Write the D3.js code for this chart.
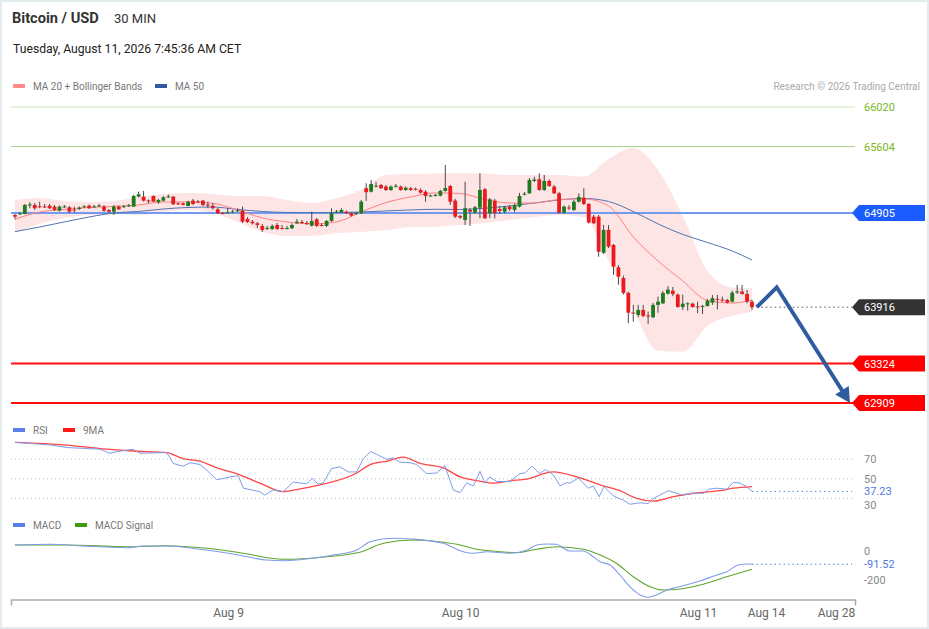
<!DOCTYPE html>
<html><head><meta charset="utf-8">
<script src="https://cdn.jsdelivr.net/npm/d3@7/dist/d3.min.js"></script>
<style>
html,body{margin:0;padding:0;background:#fff;overflow:hidden}
svg{display:block;font-family:Roboto,"Liberation Sans",Arial,sans-serif}
</style></head><body>
<svg id="c" width="929" height="629"></svg>
<script>
// ---------- DATA ----------
const title = "Bitcoin / USD";
const period = "30 MIN";
const stamp = "Tuesday, August 11, 2026 7:45:36 AM CET";
const credit = "Research \u00A9 2026 Trading Central";

const openP = [64885,64893,64896,64985,64990,64977,64975,64983,64973,64931, 64969,64966,64943,64948,64969,64983,64969,64980,64973,64938, 64920,64973,64969,64980,64973,65078,65078,65038,65085,65019, 65036,65075,65078,65008,65006,64980,65036,65027,65036,64994, 64983,64945,64906,64906,64917,64927,64931,64843,64815,64798, 64770,64740,64738,64780,64749,64742,64745,64798,64812,64801, 64773,64840,64780,64770,64822,64917,64914,64920,64903,64896, 64903,65166,65130,65187,65201,65183,65148,65187,65183,65148, 65166,65161,65148,65130,65085,65090,65088,65138,65190,65036, 64875,64833,64938,64910,64962,65155,64903,65036,64948,64920, 64973,64938,64973,65101,65113,65243,65261,65148,65243,65183, 65113,64910,64964,64938,65025,65067,65001,64867,64867,64488, 64728,64570,64335,64223,64066,63860,63834,63887,63829,63810, 63940,63956,64059,64090,64048,63918,63950,63953,63924,63918, 63929,63964,64003,63995,63992,63974,64076,64080,64055,63974];
const highP = [64896,64912,65001,65019,65011,65025,65001,65001,64990,64985, 64990,64980,64973,64975,64990,64996,64990,65001,64990,64948, 64990,64985,64990,65001,65096,65130,65138,65048,65090,65054, 65085,65101,65085,65017,65017,65033,65054,65043,65043,65025, 65011,64959,64917,64956,64938,64956,64973,64864,64833,64812, 64791,64770,64786,64801,64780,64770,64796,64843,64833,64822, 64920,64854,64796,64833,64956,64938,64956,64932,64917,64917, 65043,65218,65253,65232,65211,65201,65195,65211,65195,65185, 65180,65174,65164,65143,65101,65106,65148,65411,65201,65054, 64885,65235,64959,64980,65324,65169,65064,65054,64980,64980, 64990,65006,65117,65127,65274,65288,65324,65306,65258,65201, 65127,64985,64990,65043,65113,65166,65011,64885,64885,64780, 64780,64581,64360,64248,64080,63940,63940,63940,63869,63961, 64027,64087,64136,64129,64059,64048,63967,63964,63974,63940, 64003,64045,64045,64027,64003,64087,64150,64150,64097,63992];
const lowP = [64840,64885,64891,64956,64938,64956,64959,64948,64927,64922, 64959,64906,64910,64938,64959,64948,64959,64969,64917,64906, 64885,64938,64959,64969,64969,65069,65027,65008,65022,65001, 65027,65064,64990,64990,64985,64975,64990,65011,64980,64956, 64943,64896,64891,64901,64906,64917,64801,64801,64785,64748, 64707,64728,64728,64728,64733,64733,64738,64791,64791,64780, 64764,64759,64764,64759,64812,64906,64906,64896,64869,64885, 64896,65033,65122,65174,65159,65138,65138,65174,65138,65138, 65138,65143,65111,65025,65075,65080,65080,65130,64990,64854, 64843,64780,64770,64896,64851,64843,64854,64849,64896,64901, 64927,64917,64964,65090,65106,65232,65138,65138,65180,65106, 64901,64901,64938,64927,65017,64990,64796,64791,64446,64475, 64538,64255,64153,64048,63747,63764,63810,63810,63738,63803, 63858,63950,64048,64031,63911,63887,63880,63911,63852,63845, 63922,63940,63893,63974,63955,63966,64055,64048,63957,63887];
const closeP = [64867,64903,64990,64996,64956,64969,64969,64956,64938,64973, 64975,64920,64935,64962,64975,64956,64975,64985,64931,64920, 64973,64945,64977,64987,65085,65103,65036,65032,65025,65043, 65071,65080,64998,65003,64990,65025,65001,65022,64990,64987, 64956,64903,64900,64914,64922,64933,64815,64812,64798,64780, 64728,64749,64770,64738,64742,64749,64780,64815,64801,64795, 64822,64770,64775,64822,64903,64922,64938,64903,64878,64906, 65025,65124,65211,65193,65166,65148,65183,65192,65148,65172, 65148,65155,65120,65085,65090,65096,65138,65169,65025,64867, 64859,64956,64920,64966,65148,64851,65050,64903,64927,64966, 64945,64990,65085,65109,65253,65258,65148,65243,65190,65113, 64910,64973,64954,65025,65075,65001,64805,64798,64499,64728, 64552,64342,64237,64066,63858,63855,63887,63824,63818,63940, 63974,64066,64101,64055,63918,63953,63957,63918,63918,63929, 63985,64011,63997,63990,63964,64069,64082,64055,63974,63916];

const maIdx = [0,5,10,15,20,25,30,35,40,45,50,55,60,65,70,75,80,85,90,95,100,105,110,115,120,125,130,135,140,145,149];
const ma20 = [64840,64917,64943,64964,64975,64990,65022,65022,65008,64938,64854,64812,64791,64812,64917,65015,65075,65117,65111,65048,65011,65011,65048,65054,64980,64655,64402,64192,63987,63960,63992];
const bbUpper = [65043,65064,65032,65022,65032,65075,65106,65117,65106,65085,65085,65043,65011,65064,65148,65306,65316,65322,65324,65322,65306,65306,65306,65288,65474,65589,65358,64875,64297,64123,64115];
const bbLower = [64696,64791,64854,64885,64896,64885,64917,64938,64906,64812,64707,64665,64665,64696,64707,64728,64759,64762,64780,64801,64833,64864,64885,64864,64401,63886,63459,63448,63719,63825,63865];
const ma50 = [64710,64759,64812,64864,64906,64922,64948,64964,64969,64943,64922,64912,64910,64910,64917,64927,64938,64945,64943,64956,64980,65011,65043,65059,65027,64922,64791,64681,64596,64507,64412];

const levels = [66020,65604,64905,63324,62909];
const levelKind = ["res","res","pivot","sup","sup"];

const forecastIdx = [194,385,1088];
const forecastPrice = [63916,64125,62909];

const rsiIdx = [0,7.1,10.5,17.2,19.2,20.6,23.9,25.3,30.7,32,34,35.4,37.4,38.8,40.8,44.1,45.1,46.2,49.5,50.5,52.2,54.2,56.3,59,60.1,61.3,62.3,64,65.7,67.4,69.1,70.4,71.9,73.1,75.2,76.5,77.8,79.9,81.2,83.2,85.3,86.9,88.6,90,91.3,92.7,94,95,96,97.4,100,102.1,103.1,104.5,106.1,107.2,108.8,110.2,111.5,112.2,113.9,115.9,116.9,118.1,119.1,121,123,124.3,126.4,128,129.1,130.4,132.1,133.4,134.8,137.1,139.2,140.2,141.9,143.9,145.2,146.6,147.9,149];
const rsiVal = [86.8,84.3,81.6,79.9,75.8,77.5,79.9,75.8,76.5,65.5,62.7,66.2,64.4,58.6,49,52.4,53.1,40.4,36.9,33.5,38.7,36.9,46.6,44.8,50.7,44.5,45.6,60.3,62.1,56.9,56.9,70.3,77.5,74.7,69.6,71.3,66.8,66.2,64.4,55.2,55.9,63.4,38.7,35.9,45.6,42.8,57.5,45.6,51.8,47.2,47.2,55.2,55.9,62.7,55.2,59.3,54.1,42.8,46.2,45.6,50.7,40.4,42.8,31.8,42.1,32.5,28.4,24.2,25.6,24.9,30.1,33.5,37.9,35.9,33.5,35.3,35.3,39.4,40.4,39.4,46.2,45.6,42.1,37.23];
const rsiMaIdx = [0,10.5,17.2,23.9,30.7,34,37.4,40.8,44.8,49.5,54.2,57.6,62.3,69.1,71.8,75.2,78.5,81.9,86.6,90,93.3,96.7,100.1,103.5,108.8,113.6,118.3,122.3,125.7,129.1,133.1,137.1,142.5,145.2,149];
const rsiMaVal = [86.8,84,80.6,78.1,76.5,70.3,67.8,61,55.2,45.6,36.9,39.7,44.5,55.8,64.4,67.8,72,65.5,61,51.8,48.2,45.6,47.9,49.7,56.9,51.8,43.8,37.9,30.1,27.3,31.8,35.3,37.9,40.4,42.1];
const rsiLevels = [70,50,30];

const macdIdx = [0,7.1,13.8,22.6,25.9,30.7,37.4,44.1,50.9,54.2,61,64.4,69.1,71.8,76.5,79.9,86.6,90,92.7,95.4,100.1,103.5,105.5,107.5,109.5,110.9,112.2,114.9,116.9,118.3,120.3,122.3,124.3,126.4,128,129.7,131.8,133.8,138.5,141.9,143.9,146.2,147.9,149];
const macdVal = [41.4,46.2,34.5,22.8,34.5,34.5,11.7,-20.7,-62.1,-66.9,-46.2,-27.6,6.9,64.1,87.6,82.8,53.1,2.1,-15.9,-4.8,-15.9,6.9,41.4,48.3,46.2,18.6,0,0,-39.3,-73.8,-96.6,-165.5,-246.2,-303.4,-319.3,-303.4,-269,-250.3,-206.9,-165.5,-142.8,-96.6,-89.7,-91.52];
const sigIdx = [0,10.5,22.6,30.7,38.8,45.5,54.2,63,69.7,74.5,80.5,86.6,90,93.3,98.1,101.4,105.5,109.5,114.9,118.3,121.6,125,128.4,131.1,134.5,138.5,143.9,149];
const sigVal = [41.4,41.4,29.7,36.6,18.6,-11.7,-57.2,-39.3,-9,53.1,75.9,60,41.4,11.7,-4.8,-11.7,11.7,29.7,11.7,-27.6,-84.8,-177.2,-246.2,-269,-262.1,-234.5,-177.2,-126.2];
const macdTicks = [0,-200];

const tickIdx = [43.1,90,138.1,282,954];
const tickLabels = ["Aug 9","Aug 10","Aug 11","Aug 14","Aug 28"];

// ---------- LAYOUT ----------
const svg = d3.select("#c");
const L = 11, R = 855, TAGX = 852;
const FONT = "Roboto,'Liberation Sans',Arial,sans-serif";
svg.append("rect").attr("x",1).attr("y",1).attr("width",927).attr("height",627)
  .attr("fill","#fff").attr("stroke","#e3ebee").attr("stroke-width",2);

const x = d3.scaleLinear().domain([-0.8,149,282,954,1136]).range([L,752,766,836,R]);
const y = d3.scaleLinear().domain([62909,66020]).range([403,107]);
const yR = d3.scaleLinear().domain([30,70]).range([498.5,459]);
const yM = d3.scaleLinear().domain([-200,0]).range([580,551]);

// header
svg.append("text").attr("x",12).attr("y",23).attr("font-size",14.6).attr("font-weight","bold").attr("fill","#333").text(title);
svg.append("text").attr("x",114).attr("y",23).attr("font-size",13).attr("fill","#333").text(period);
svg.append("text").attr("x",13).attr("y",53).attr("font-size",12.2).attr("fill","#222").text(stamp);

function legend(items, yy){
  items.forEach(it=>{
    svg.append("rect").attr("x",it[0]).attr("y",yy-6).attr("width",12).attr("height",4).attr("fill",it[2]);
    svg.append("text").attr("x",it[0]+20).attr("y",yy).attr("font-size",10).attr("fill","#777").text(it[1]);
  });
}
legend([[13,"MA 20 + Bollinger Bands","#ff8a8a"],[155,"MA 50","#2f5c9e"]],90);
svg.append("text").attr("x",920).attr("y",90).attr("text-anchor","end").attr("font-size",10).attr("fill","#a9a9a9").text(credit);

// Bollinger band
const bandData = maIdx.map((d,i)=>({i:d,u:bbUpper[i],l:bbLower[i],m:ma20[i],m50:ma50[i]}));
svg.append("path").datum(bandData)
  .attr("d",d3.area().curve(d3.curveMonotoneX).x(d=>x(d.i)).y0(d=>y(d.l)).y1(d=>y(d.u)))
  .attr("fill","#fde5e5");

// level lines
const levelStyle = {
  res:{stroke:["#cde5b5","#a8d08a"],w:1,text:"#7ab51d",box:null},
  pivot:{stroke:["#729bef"],w:2,text:"#fff",box:"#1a5cff"},
  sup:{stroke:["#ff1010"],w:2,text:"#fff",box:"#ff0000"}
};
levels.forEach((v,k)=>{
  const st = levelStyle[levelKind[k]];
  const col = st.stroke[Math.min(k, st.stroke.length-1)];
  svg.append("line").attr("x1",L).attr("x2",R).attr("y1",y(v)).attr("y2",y(v))
    .attr("stroke",col).attr("stroke-width",st.w);
});

// MA lines
const line = (acc)=>d3.line().curve(d3.curveMonotoneX).x(d=>x(d.i)).y(acc);
svg.append("path").datum(bandData).attr("d",line(d=>y(d.m50))).attr("fill","none").attr("stroke","#4f74b3").attr("stroke-width",1);
svg.append("path").datum(bandData).attr("d",line(d=>y(d.m))).attr("fill","none").attr("stroke","#ff8080").attr("stroke-width",1);

// candles
const candles = d3.range(openP.length).map(i=>({i,o:openP[i],h:highP[i],l:lowP[i],c:closeP[i]}));
const cg = svg.append("g");
cg.selectAll("line").data(candles).join("line")
  .attr("x1",d=>x(d.i)).attr("x2",d=>x(d.i))
  .attr("y1",d=>y(d.h)).attr("y2",d=>y(d.l))
  .attr("stroke","#4a4a4a").attr("stroke-width",1);
cg.selectAll("rect").data(candles).join("rect")
  .attr("x",d=>x(d.i)-1.9).attr("width",3.8)
  .attr("y",d=>y(Math.max(d.o,d.c)))
  .attr("height",d=>Math.max(1,Math.abs(y(d.o)-y(d.c))))
  .attr("fill",d=>d.c>=d.o?"#1e7b1e":"#ec1a1f");

// last price dotted line
const last = closeP[closeP.length-1];
svg.append("line").attr("x1",x(forecastIdx[0])).attr("x2",TAGX).attr("y1",y(last)).attr("y2",y(last))
  .attr("stroke","#555").attr("stroke-width",1).attr("stroke-dasharray","1.5,3");

// forecast arrow
const pts = forecastIdx.map((d,i)=>[x(d),y(forecastPrice[i])]);
const n = pts.length, a = pts[n-2], b = pts[n-1];
const len = Math.hypot(b[0]-a[0],b[1]-a[1]);
const ux=(b[0]-a[0])/len, uy=(b[1]-a[1])/len;
const shaftEnd = [b[0]-ux*10, b[1]-uy*10];
const shaft = pts.slice(0,n-1).concat([shaftEnd]);
svg.append("path").attr("d",d3.line()(shaft)).attr("fill","none").attr("stroke","#2f5c9e").attr("stroke-width",4).attr("stroke-linejoin","miter");
const hw = 8, hl = 15;
const base = [b[0]-ux*hl, b[1]-uy*hl];
svg.append("path").attr("d",d3.line()([[b[0],b[1]],[base[0]-uy*hw,base[1]+ux*hw],[base[0]+uy*hw,base[1]-ux*hw]])+"Z").attr("fill","#2f5c9e");

// tags
function tag(yy, txt, fill, color){
  if(fill){
    svg.append("path").attr("d",`M${TAGX},${yy} L${TAGX+7},${yy-8} L925,${yy-8} L925,${yy+8} L${TAGX+7},${yy+8} Z`).attr("fill",fill);
  }
  svg.append("text").attr("x",864).attr("y",yy+4).attr("font-size",11).attr("fill",color).text(txt);
}
levels.forEach((v,k)=>{
  const st = levelStyle[levelKind[k]];
  tag(y(v), d3.format("d")(v), st.box, st.text);
});
tag(y(last), d3.format("d")(last), "#333333", "#fff");

// RSI panel
legend([[13,"RSI","#5b7fe8"],[63,"9MA","#ff1a1a"]],434);
rsiLevels.forEach(v=>{
  svg.append("line").attr("x1",L).attr("x2",TAGX).attr("y1",yR(v)).attr("y2",yR(v))
    .attr("stroke","#bdbdbd").attr("stroke-width",1).attr("stroke-dasharray","1,3");
  svg.append("text").attr("x",864).attr("y",yR(v)+(v===30?10:4)).attr("font-size",11).attr("fill","#888").text(v);
});
const rsiPts = rsiIdx.map((d,i)=>[x(d),yR(rsiVal[i])]);
const rsiMaPts = rsiMaIdx.map((d,i)=>[x(d),yR(rsiMaVal[i])]);
svg.append("path").attr("d",d3.line().curve(d3.curveMonotoneX)(rsiMaPts)).attr("fill","none").attr("stroke","#ff4545").attr("stroke-width",1.3);
svg.append("path").attr("d",d3.line()(rsiPts)).attr("fill","none").attr("stroke","#7f9cea").attr("stroke-width",1);
const rsiLast = rsiVal[rsiVal.length-1];
svg.append("line").attr("x1",x(149)).attr("x2",TAGX).attr("y1",yR(rsiLast)).attr("y2",yR(rsiLast))
  .attr("stroke","#5b7fe8").attr("stroke-width",1).attr("stroke-dasharray","1.5,3");
svg.append("rect").attr("x",862).attr("y",yR(rsiLast)-6).attr("width",34).attr("height",10.5).attr("fill","#fff");
svg.append("text").attr("x",864).attr("y",yR(rsiLast)+3.5).attr("font-size",11).attr("fill","#4f78e6").text(rsiLast.toFixed(2));

// MACD panel
legend([[13,"MACD","#5b7fe8"],[75,"MACD Signal","#3f9a10"]],529);
macdTicks.forEach(v=>{
  svg.append("text").attr("x",864).attr("y",yM(v)+4).attr("font-size",11).attr("fill","#888").text(v);
});
const macdPts = macdIdx.map((d,i)=>[x(d),yM(macdVal[i])]);
const sigPts = sigIdx.map((d,i)=>[x(d),yM(sigVal[i])]);
svg.append("path").attr("d",d3.line().curve(d3.curveMonotoneX)(sigPts)).attr("fill","none").attr("stroke","#5ea52b").attr("stroke-width",1.1);
svg.append("path").attr("d",d3.line().curve(d3.curveMonotoneX)(macdPts)).attr("fill","none").attr("stroke","#7f9cea").attr("stroke-width",1.1);
const macdLast = macdVal[macdVal.length-1];
svg.append("line").attr("x1",x(149)).attr("x2",TAGX).attr("y1",yM(macdLast)).attr("y2",yM(macdLast))
  .attr("stroke","#5b7fe8").attr("stroke-width",1).attr("stroke-dasharray","1.5,3");
svg.append("text").attr("x",864).attr("y",yM(macdLast)+4).attr("font-size",11).attr("fill","#4f78e6").text(macdLast.toFixed(2));

// x axis
const ax = svg.append("g").attr("transform","translate(0,599.5)")
  .call(d3.axisBottom(x).tickValues(tickIdx).tickFormat((d,i)=>tickLabels[i]).tickSizeInner(0).tickSizeOuter(6).tickPadding(9));
ax.select(".domain").attr("stroke","#aaa").attr("stroke-width",1.5);
ax.selectAll("text").attr("font-size",12).attr("fill","#666").attr("font-family",FONT);
</script>
</body></html>
